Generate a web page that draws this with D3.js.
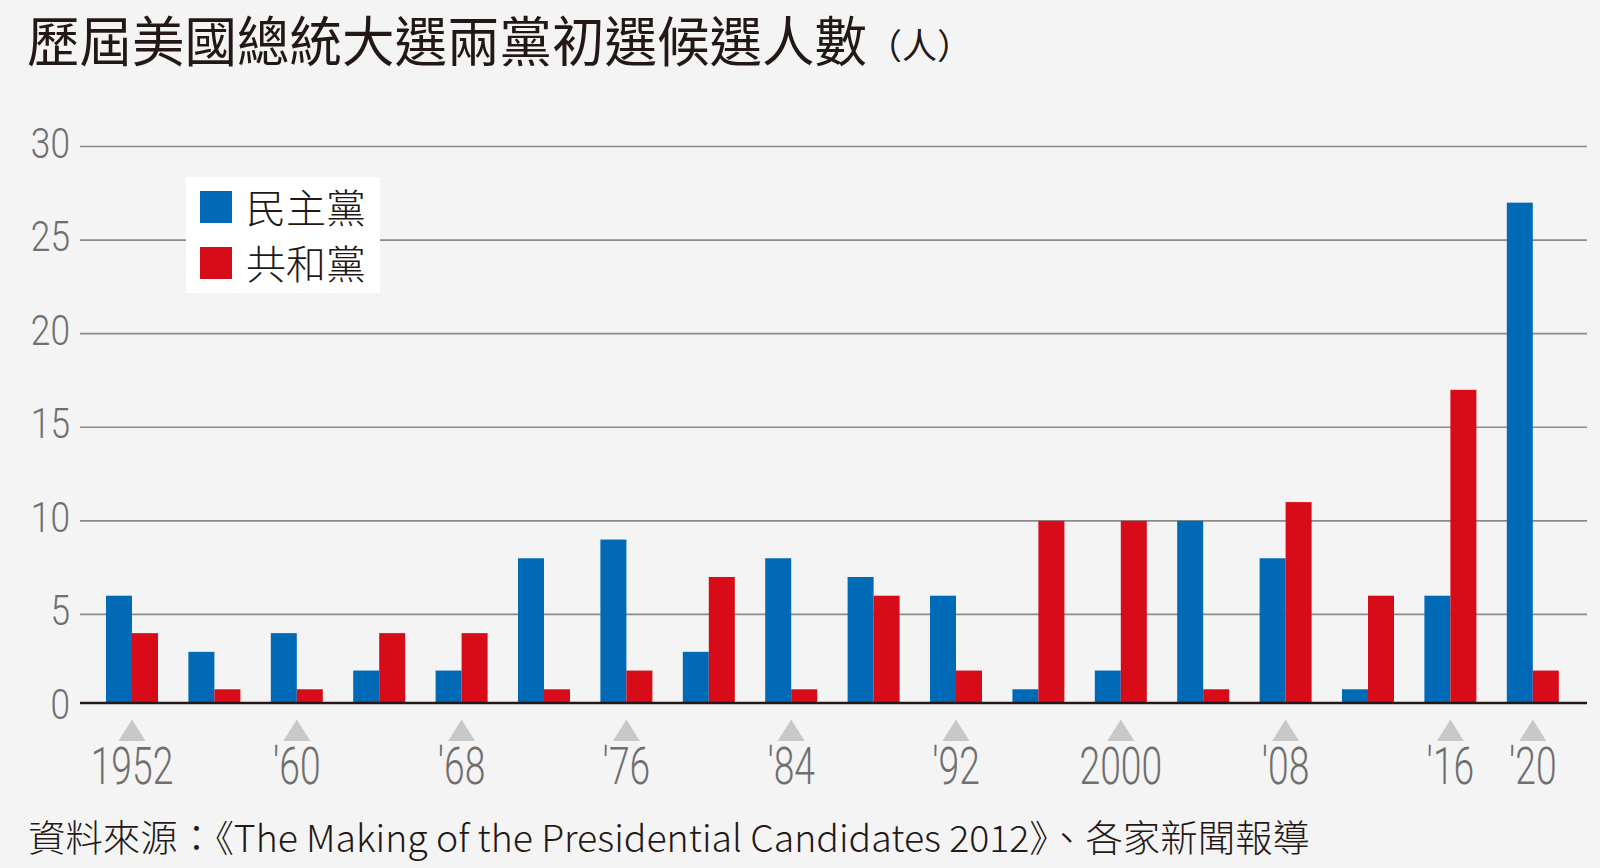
<!DOCTYPE html>
<html><head><meta charset="utf-8">
<script src="https://cdn.jsdelivr.net/npm/d3@7/dist/d3.min.js"></script>
<style>
html,body{margin:0;padding:0;background:#f4f4f4;}
svg{display:block;}
</style></head>
<body>
<svg id="chart" width="1600" height="868"></svg>
<script>
// ---- data ----
const years = [1952,1956,1960,1964,1968,1972,1976,1980,1984,1988,1992,1996,2000,2004,2008,2012,2016,2020];
const democrats   = [6,3,4,2,2,8,9,3,8,7,6,1,2,10,8,1,6,27];
const republicans = [4,1,1,4,4,1,2,7,1,6,2,10,10,1,11,6,17,2];
const seriesNames = ["民主黨","共和黨"];
const tickYears  = [1952,1960,1968,1976,1984,1992,2000,2008,2016,2020];
const tickLabels = ["1952","'60","'68","'76","'84","'92","2000","'08","'16","'20"];
const yTicks = [0,5,10,15,20,25,30];
const titleText = "歷屆美國總統大選兩黨初選候選人數";
const unitText = "（人）";
const sourceText = "資料來源：《The Making of the Presidential Candidates 2012》、各家新聞報導";

// ---- layout ----
const colors = ["#006ab7","#d70c18"];
const svg = d3.select("#chart");
svg.append("rect").attr("width",1600).attr("height",868).attr("fill","#f4f4f4");

const y = d3.scaleLinear().domain([0,30]).range([708,146.5]);
const baseY = 703;
const step = 82.4, barW = 26;
const x = d3.scaleBand().domain(years)
  .range([106, 106 + step*(years.length-1) + 2*barW])
  .paddingInner(1 - 2*barW/step).paddingOuter(0);
const xs = d3.scaleBand().domain([0,1]).range([0, x.bandwidth()]);

// gridlines
svg.append("g").selectAll("line").data(yTicks.filter(d=>d>0)).join("line")
  .attr("x1",80).attr("x2",1587)
  .attr("y1",d=>y(d)).attr("y2",d=>y(d))
  .attr("stroke","#8a8a8a").attr("stroke-width",1.6);

// y labels
const cond = "Roboto";
svg.append("g").selectAll("g").data(yTicks).join("g")
  .attr("transform",d=>`translate(70,${y(d)+11}) scale(0.84,1)`)
  .append("text").attr("text-anchor","end")
  .attr("font-family",cond).attr("font-weight",300).attr("font-size",42)
  .attr("fill","#6f6f6f").text(d=>d);

// bars
const table = years.map((yr,i)=>({year:yr, values:[democrats[i],republicans[i]]}));
const groups = svg.append("g").selectAll("g").data(table).join("g")
  .attr("transform",d=>`translate(${x(d.year)},0)`);
groups.selectAll("rect").data(d=>d.values.map((v,k)=>({v,k}))).join("rect")
  .attr("x",d=>xs(d.k)).attr("width",xs.bandwidth())
  .attr("y",d=>y(d.v)).attr("height",d=>Math.max(0,baseY - y(d.v)))
  .attr("fill",d=>colors[d.k]);

// baseline
svg.append("line").attr("x1",80).attr("x2",1587).attr("y1",baseY).attr("y2",baseY)
  .attr("stroke","#231815").attr("stroke-width",2.6);

// x ticks: triangles + labels
const tg = svg.append("g").selectAll("g").data(tickYears.map((t,i)=>({t,label:tickLabels[i]}))).join("g")
  .attr("transform",d=>`translate(${x(d.t)+x.bandwidth()/2},0)`);
tg.append("path").attr("d","M-13.5,741 L13.5,741 L0,719.5 Z").attr("fill","#c8c8c8");
tg.append("g").attr("transform","translate(0,784) scale(0.73,1)")
  .append("text").attr("text-anchor","middle")
  .attr("font-family",cond).attr("font-weight",300).attr("font-size",51)
  .attr("fill","#6f6f6f").text(d=>d.label);

// legend
const lg = svg.append("g");
lg.append("rect").attr("x",186).attr("y",177).attr("width",194).attr("height",116).attr("fill","#ffffff");
seriesNames.forEach((n,i)=>{
  lg.append("rect").attr("x",200).attr("y",191+56*i).attr("width",32).attr("height",32).attr("fill",colors[i]);
  lg.append("text").attr("x",246).attr("y",223+56*i)
    .attr("font-family","Noto Sans CJK TC").attr("font-weight",300).attr("font-size",40)
    .attr("fill","#231815").text(n);
});

// title
svg.append("g").attr("transform","translate(27,62) scale(1,1.04)")
  .append("text").attr("x",0).attr("y",0)
  .attr("font-family","Noto Sans CJK TC").attr("font-weight",400).attr("font-size",52)
  .attr("textLength",840).attr("lengthAdjust","spacingAndGlyphs")
  .attr("fill","#231815").text(titleText);
svg.append("text").attr("x",867).attr("y",59)
  .attr("font-family","Noto Sans CJK TC").attr("font-weight",400).attr("font-size",35)
  .attr("fill","#231815").text(unitText);

// source
svg.append("text").attr("x",28).attr("y",852)
  .attr("font-family","Noto Sans CJK TC").attr("font-weight",300).attr("font-size",37)
  .attr("textLength",1282).attr("lengthAdjust","spacingAndGlyphs")
  .attr("fill","#231815").text(sourceText);
</script>
</body></html>
